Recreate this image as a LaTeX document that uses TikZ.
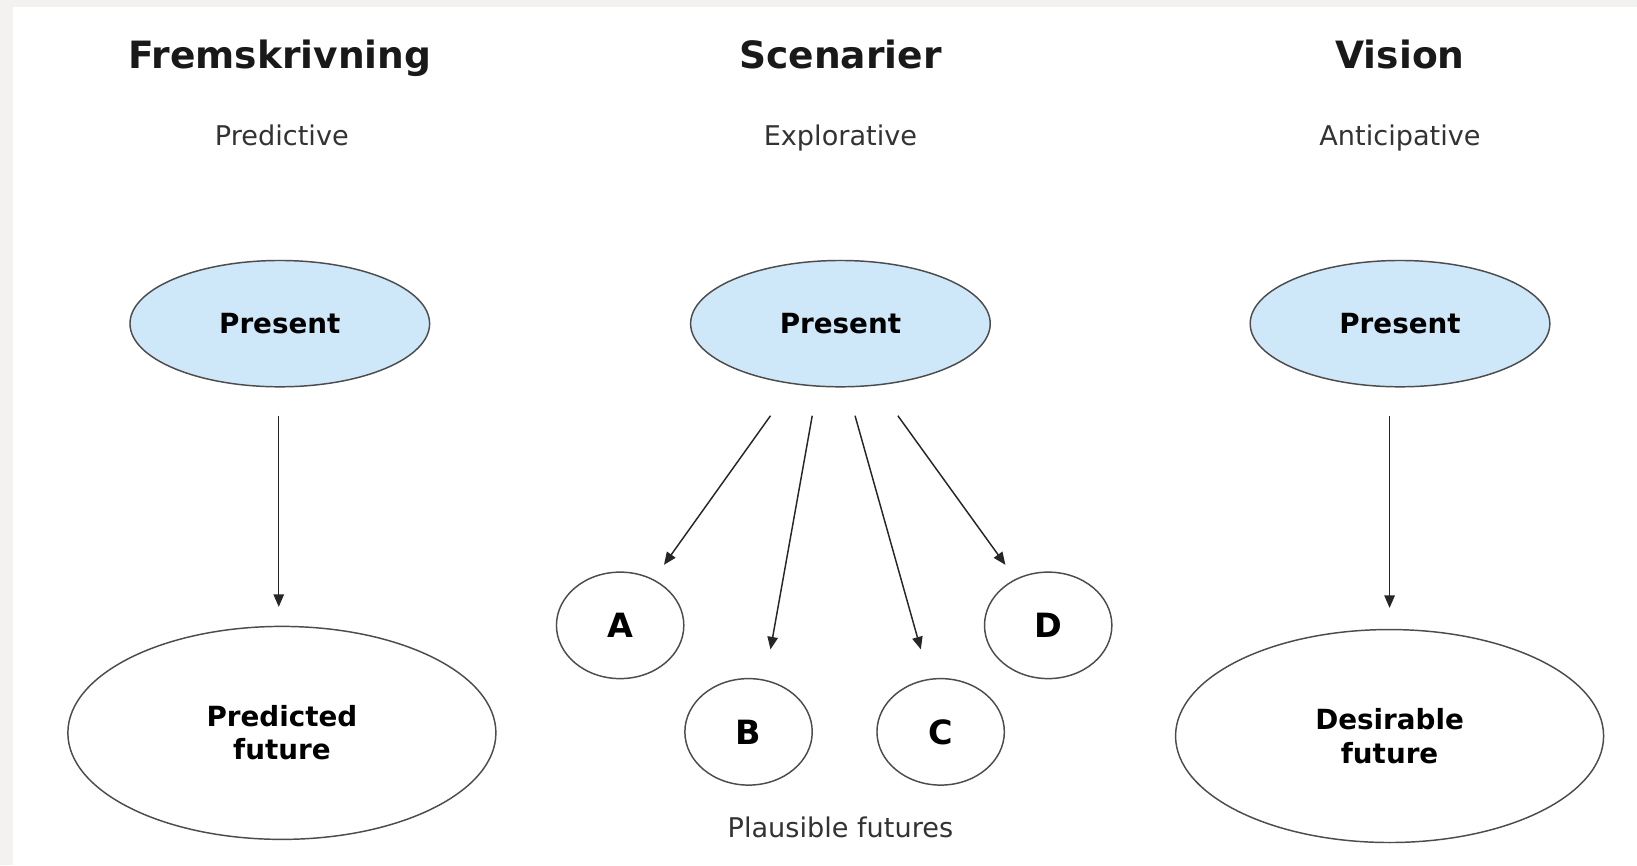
\documentclass[tikz,border=0pt]{standalone}
\usepackage{fontspec}
\setmainfont{DejaVu Sans}
\usetikzlibrary{shapes.geometric,arrows.meta,calc}
\definecolor{presentblue}{RGB}{206,232,249}
\definecolor{framegrey}{RGB}{243,242,240}

\begin{document}
\begin{tikzpicture}[x=0.5pt,y=-0.5pt,
    title/.style={anchor=base,font=\fontsize{18}{22}\selectfont\bfseries,text=black!90},
    subtitle/.style={anchor=base,font=\fontsize{13}{16}\selectfont,text=black!80},
    present/.style={ellipse,draw=black!70,line width=0.7pt,fill=presentblue,inner sep=0pt,
      minimum width=143.5pt,minimum height=60.5pt,
      font=\fontsize{13.3}{16}\selectfont\bfseries},
    future/.style={ellipse,draw=black!70,line width=0.7pt,inner sep=0pt,align=center,
      minimum width=205pt,minimum height=102pt,
      font=\fontsize{13.3}{16}\selectfont\bfseries},
    scen/.style={ellipse,draw=black!70,line width=0.7pt,inner sep=0pt,
      minimum width=61pt,minimum height=51pt,
      font=\fontsize{16}{19}\selectfont\bfseries},
    arrow/.style={-{Stealth[length=6pt,width=5pt,inset=0pt]},draw=black!85,line width=0.7pt}]

  % frame
  \fill[framegrey] (0,0) rectangle (1568,829);
  \fill[white] (12,7) rectangle (1568,829);

  % headings
  \node[title] (t1) at (268,66) {Fremskrivning};
  \node[title] (t2) at (805,66) {Scenarier};
  \node[title] (t3) at (1341,66) {Vision};
  \node[subtitle] (s1) at (270,139) {Predictive};
  \node[subtitle] (s2) at (805,139) {Explorative};
  \node[subtitle] (s3) at (1341,139) {Anticipative};

  % present
  \node[present] (pres1) at (268,310) {Present};
  \node[present] (pres2) at (805,310) {Present};
  \node[present] (pres3) at (1341,310) {Present};

  % futures
  \node[future] (pred) at (270,702) {Predicted\\future};
  \node[future] (des) at (1331,705) {Desirable\\future};
  \node[scen] (A) at (594,599) {A};
  \node[scen] (B) at (717,701) {B};
  \node[scen] (C) at (901,701) {C};
  \node[scen] (D) at (1004,599) {D};
  \node[subtitle] (plaus) at (805,802) {Plausible futures};

  % arrows
  \draw[arrow] ($(pres1.south)+(-1,27)$) -- ($(pred.north)+(-3,-18)$);
  \draw[arrow] ($(pres2.south)+(-67,27)$) -- ($(A)+(42,-58)$);
  \draw[arrow] ($(pres2.south)+(-27,27)$) -- ($(B)+(21,-79)$);
  \draw[arrow] ($(pres2.south)+(14,27)$) -- ($(C)+(-19,-79)$);
  \draw[arrow] ($(pres2.south)+(55,27)$) -- ($(D)+(-41,-58)$);
  \draw[arrow] ($(pres3.south)+(-10,27)$) -- ($(des.north)+(0,-20)$);
\end{tikzpicture}
\end{document}
